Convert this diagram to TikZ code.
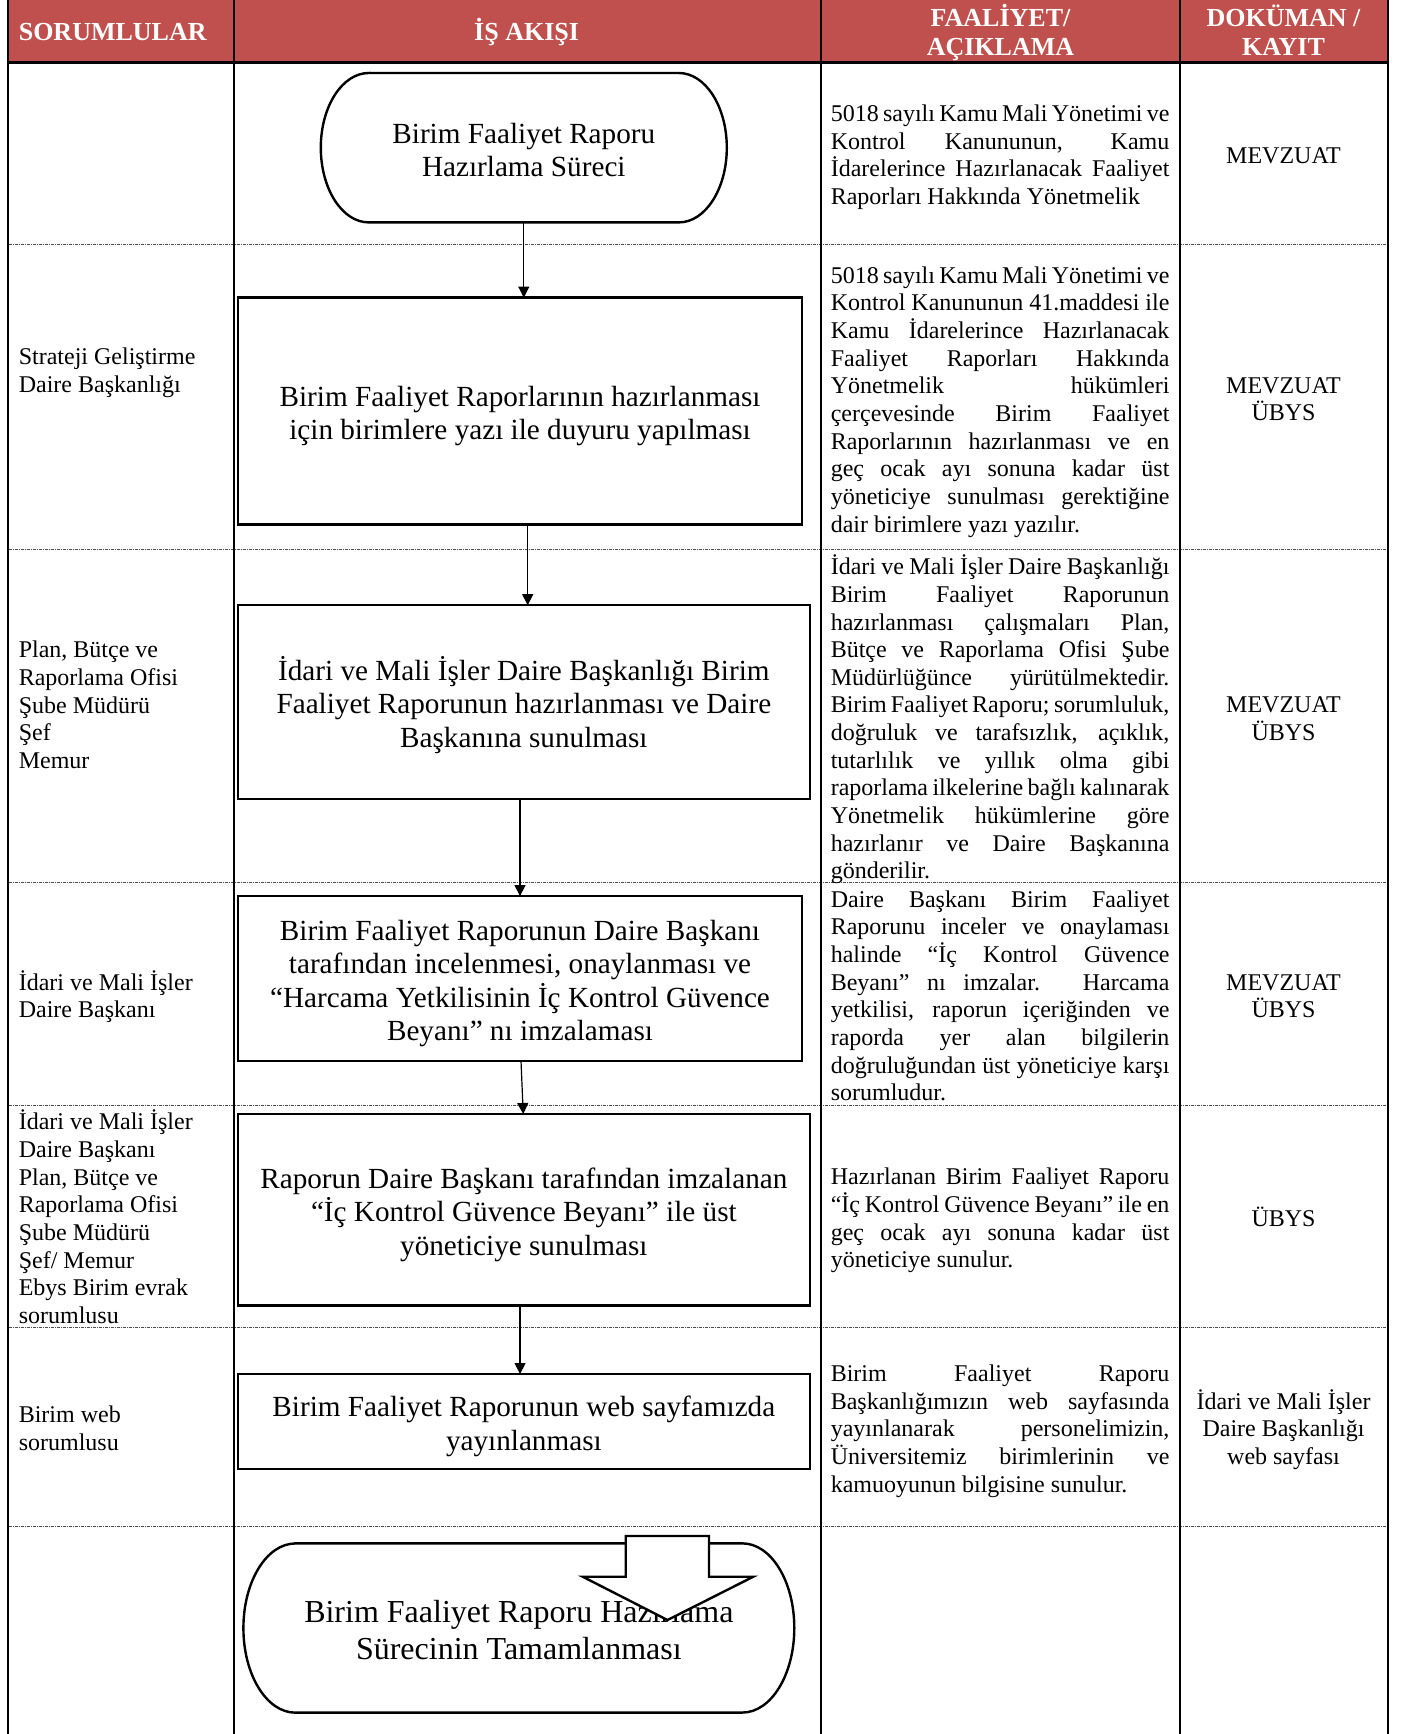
\documentclass[tikz,border=0pt]{standalone}
\usepackage{fontspec}
\setmainfont{Liberation Serif}
\usetikzlibrary{calc,arrows.meta}
\definecolor{hdr}{HTML}{C0504D}
\hbadness=10000
\hfuzz=6pt
\hyphenpenalty=10000
\exhyphenpenalty=10000
\newcommand\ft{\rule{0pt}{0.95em}}
\newcommand\fT{\rule{0pt}{1.03em}}
\newcommand\fb{\rule[-0.2em]{0pt}{0.2em}}
\newcommand\jl[1]{\makebox[169.3pt][s]{\spaceskip=0pt\xspaceskip=0pt #1}}
\newcommand\drawterminal[3]{%
  \draw[termline] ([xshift=#2]#1.north west) -- ([xshift=-#2]#1.north east)
    arc[start angle=90,end angle=-90,x radius=#2,y radius=#3]
    -- ([xshift=#2]#1.south west)
    arc[start angle=270,end angle=90,x radius=#2,y radius=#3] -- cycle;}
\begin{document}
\begin{tikzpicture}[x=0.5pt,y=-0.5pt,
  every node/.style={inner sep=0pt, outer sep=0pt},
  colline/.style={line width=1pt},
  rowsep/.style={line width=0.5pt, draw=black!70, dash pattern=on 1.5pt off 0.5pt on 0.5pt off 0.5pt},
  hdrtext/.style={text=white, font=\fontsize{13}{14.4}\selectfont\bfseries, align=center},
  small/.style={font=\fontsize{12}{13.83}\selectfont},
  desc/.style={small, text width=169.3pt, align=justify},
  doc/.style={small, align=center},
  resp/.style={small, align=left, anchor=west},
  box/.style={draw, line width=1.2pt, font=\fontsize{14.6}{16.8}\selectfont, align=center},
  term/.style={font=\fontsize{14.6}{16.6}\selectfont, align=center},
  termline/.style={line width=1.2pt},
  arr/.style={line width=0.6pt, -{Triangle[length=5.5pt,width=5.5pt]}}
]
\useasboundingbox (0,0) rectangle (1405,1734);
% header
\fill[hdr] (7.5,0) rectangle (1387.5,62.3);
% row separators
\foreach \yy in {244.5,549.8,882.8,1105.2,1327.6,1526.7}
  \draw[rowsep] (8.5,\yy) -- (1386.5,\yy);
% column lines
\foreach \xx in {7.5,233.7,821,1180,1387.5}
  \draw[colline] (\xx,0) -- (\xx,1734);
\draw[line width=1.75pt] (7.5,62.3) -- (1387.5,62.3);

% header texts
\node[hdrtext, anchor=west] (h1) at (18.8,31) {\ft SORUMLULAR\fb};
\node[hdrtext] (h2) at (526.6,31) {\ft İŞ AKIŞI\fb};
\node[hdrtext] (h3) at (1000.5,31) {\ft FAALİYET/\\AÇIKLAMA\fb};
\node[hdrtext] (h4) at (1283.5,31) {\ft DOKÜMAN /\\KAYIT\fb};

% flow nodes
\node[term, minimum width=203pt, minimum height=74.7pt] (start) at (523.8,147.7)
  {\fT Birim Faaliyet Raporu\\Hazırlama Süreci\fb};
\drawterminal{start}{24pt}{37.35pt}

\node[box, minimum width=282.1pt, minimum height=113.4pt] (b2) at (520,411)
  {\fT Birim Faaliyet Raporlarının hazırlanması\\için birimlere yazı ile duyuru yapılması\fb};
\node[box, minimum width=285.95pt, minimum height=96.8pt] (b3) at (523.85,702)
  {\fT İdari ve Mali İşler Daire Başkanlığı Birim\\Faaliyet Raporunun hazırlanması ve Daire\\Başkanına sunulması\fb};
\node[box, minimum width=282.1pt, minimum height=82.45pt] (b4) at (520,978.55)
  {\fT Birim Faaliyet Raporunun Daire Başkanı\\tarafından incelenmesi, onaylanması ve\\“Harcama Yetkilisinin İç Kontrol Güvence\\Beyanı” nı imzalaması\fb};
\node[box, minimum width=285.95pt, minimum height=95.75pt] (b5) at (523.85,1209.75)
  {\fT Raporun Daire Başkanı tarafından imzalanan\\“İç Kontrol Güvence Beyanı” ile üst\\yöneticiye sunulması\fb};
\node[box, minimum width=285.95pt, minimum height=47.6pt] (b6) at (523.85,1421.6)
  {\fT Birim Faaliyet Raporunun web sayfamızda\\yayınlanması\fb};
\node[term, font=\fontsize{16}{18.4}\selectfont, minimum width=275.45pt, minimum height=84.65pt] (end) at (518.85,1628)
  {\fT Birim Faaliyet Raporu Hazırlama\\Sürecinin Tamamlanması\fb};
\drawterminal{end}{26pt}{42.3pt}

% connectors
\draw[arr] (start.south) -- (start.south |- b2.north);
\draw[arr] ([xshift=3.85pt]b2.south) -- ([xshift=3.85pt]b2.south |- b3.north);
\draw[arr] (b3.south -| b4.north) -- (b4.north);
\draw[arr] ([xshift=0.5pt]b4.south) -- ([xshift=-0.3pt]b5.north);
\draw[arr] ([xshift=-1.9pt]b5.south) -- ([xshift=-1.9pt]b6.north);

% block arrow over the end terminal
\draw[line width=1.2pt, fill=white] (625.7,1536) -- (709,1536) -- (709,1576.7) -- (753.3,1576.7)
  -- (667.5,1620) -- (582.7,1576.7) -- (625.7,1576.7) -- cycle;

% responsibilities
\node[resp] (r2) at (18.8,370) {\ft Strateji Geliştirme\\Daire Başkanlığı\fb};
\node[resp] (r3) at (18.8,704) {\ft Plan, Bütçe ve\\Raporlama Ofisi\\Şube Müdürü\\Şef\\Memur\fb};
\node[resp] (r4) at (18.8,995) {\ft İdari ve Mali İşler\\Daire Başkanı\fb};
\node[resp] (r5) at (18.8,1217.5) {\ft İdari ve Mali İşler\\Daire Başkanı\\Plan, Bütçe ve\\Raporlama Ofisi\\Şube Müdürü\\Şef/ Memur\\Ebys Birim evrak\\sorumlusu\fb};
\node[resp] (r6) at (18.8,1427.7) {\ft Birim web\\sorumlusu\fb};

% descriptions
\node[desc] (d1) at (1000.1,154.3) {\jl{\ft 5018 sayılı Kamu Mali Yönetimi ve}\\
\jl{Kontrol Kanununun, Kamu}\\
\jl{İdarelerince Hazırlanacak Faaliyet}\\
Raporları Hakkında Yönetmelik\fb};
\node[desc] (d2) at (1000.1,398.8) {\jl{\ft 5018 sayılı Kamu Mali Yönetimi ve}\\
\jl{Kontrol Kanununun 41.maddesi ile}\\
\jl{Kamu İdarelerince Hazırlanacak}\\
\jl{Faaliyet Raporları Hakkında}\\
\jl{Yönetmelik hükümleri}\\
\jl{çerçevesinde Birim Faaliyet}\\
\jl{Raporlarının hazırlanması ve en}\\
\jl{geç ocak ayı sonuna kadar üst}\\
\jl{yöneticiye sunulması gerektiğine}\\
dair birimlere yazı yazılır.\fb};
\node[desc] (d3) at (1000.1,718) {\jl{\ft İdari ve Mali İşler Daire Başkanlığı}\\
\jl{Birim Faaliyet Raporunun}\\
\jl{hazırlanması çalışmaları Plan,}\\
\jl{Bütçe ve Raporlama Ofisi Şube}\\
\jl{Müdürlüğünce yürütülmektedir.}\\
\jl{Birim Faaliyet Raporu; sorumluluk,}\\
\jl{doğruluk ve tarafsızlık, açıklık,}\\
\jl{tutarlılık ve yıllık olma gibi}\\
\jl{raporlama ilkelerine bağlı kalınarak}\\
\jl{Yönetmelik hükümlerine göre}\\
\jl{hazırlanır ve Daire Başkanına}\\
gönderilir.\fb};
\node[desc] (d4) at (1000.1,995) {\jl{\ft Daire Başkanı Birim Faaliyet}\\
\jl{Raporunu inceler ve onaylaması}\\
\jl{halinde “İç Kontrol Güvence}\\
\jl{Beyanı” nı imzalar. Harcama}\\
\jl{yetkilisi, raporun içeriğinden ve}\\
\jl{raporda yer alan bilgilerin}\\
\jl{doğruluğundan üst yöneticiye karşı}\\
sorumludur.\fb};
\node[desc] (d5) at (1000.1,1217.5) {\jl{\ft Hazırlanan Birim Faaliyet Raporu}\\
\jl{“İç Kontrol Güvence Beyanı” ile en}\\
\jl{geç ocak ayı sonuna kadar üst}\\
yöneticiye sunulur.\fb};
\node[desc] (d6) at (1000.1,1428) {\jl{\ft Birim Faaliyet Raporu}\\
\jl{Başkanlığımızın web sayfasında}\\
\jl{yayınlanarak personelimizin,}\\
\jl{Üniversitemiz birimlerinin ve}\\
kamuoyunun bilgisine sunulur.\fb};

% documents
\node[doc] (k1) at (1283.5,154.9) {\ft MEVZUAT\fb};
\node[doc] (k2) at (1283.5,398) {\ft MEVZUAT\\ÜBYS\fb};
\node[doc] (k3) at (1283.5,717.4) {\ft MEVZUAT\\ÜBYS\fb};
\node[doc] (k4) at (1283.5,995) {\ft MEVZUAT\\ÜBYS\fb};
\node[doc] (k5) at (1283.5,1217) {\ft ÜBYS\fb};
\node[doc] (k6) at (1283.5,1428) {\ft İdari ve Mali İşler\\Daire Başkanlığı\\web sayfası\fb};
\end{tikzpicture}
\end{document}
